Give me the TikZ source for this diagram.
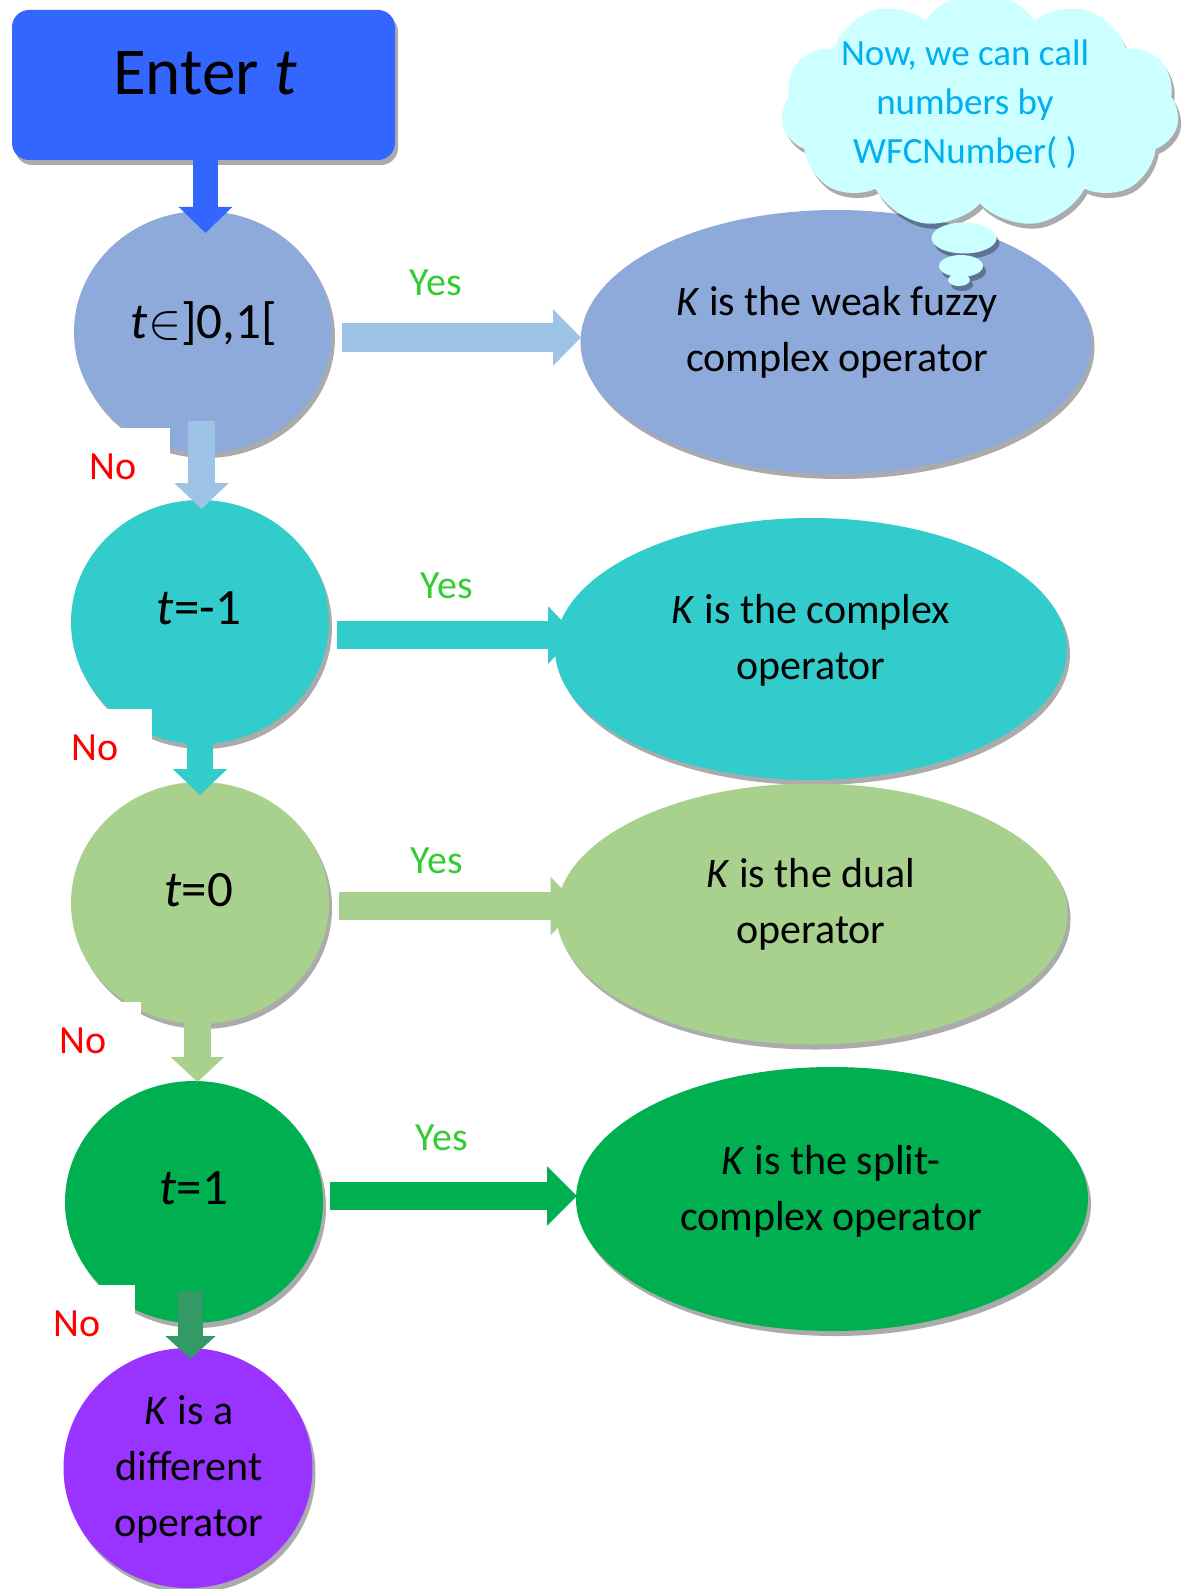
\documentclass[tikz,border=0pt]{standalone}
\usepackage{fontspec}
\setmainfont{Carlito}
\usetikzlibrary{shapes.geometric,shapes.symbols,shadows,arrows.meta,calc}
\definecolor{cEnter}{HTML}{3366FF}
\definecolor{cOne}{HTML}{8EAADB}
\definecolor{cOneArr}{HTML}{9DC3E6}
\definecolor{cTwo}{HTML}{33CCCC}
\definecolor{cThree}{HTML}{A9D18E}
\definecolor{cFour}{HTML}{00B050}
\definecolor{cFourArr}{HTML}{339966}
\definecolor{cFive}{HTML}{9933FF}
\definecolor{cYes}{HTML}{33CC33}
\definecolor{cNo}{HTML}{FF0000}
\definecolor{cCloud}{HTML}{CCFFFF}
\definecolor{cCloudTxt}{HTML}{00B0F0}
\begin{document}
\begin{tikzpicture}[x=0.5pt,y=-0.5pt,
  shp/.style={draw=none,inner sep=0pt,outer sep=0pt,
    drop shadow={shadow xshift=1.5pt,shadow yshift=-2.5pt,fill=black,opacity=.33}},
  oval/.style={shp,ellipse},
  body/.style={font=\fontsize{21}{28}\selectfont,align=center,text=black},
  yeslbl/.style={font=\fontsize{20}{24}\selectfont,text=cYes,anchor=base},
  nolbl/.style={font=\fontsize{20}{24}\selectfont,text=cNo,anchor=base},
  circtxt/.style={font=\fontsize{25.5}{30}\selectfont,anchor=base},
]
\useasboundingbox (0,0) rectangle (1189,1589);

% Enter box
\node[shp,rectangle,rounded corners=8.5pt,fill=cEnter,minimum width=191.5pt,minimum height=75pt] (enter) at (203.5,85) {};
\node[font=\fontsize{33.5}{40}\selectfont,anchor=base] (entert) at (205,95) {Enter \textit{t}};

% right ellipses
\node[oval,fill=cOne,minimum width=255.5pt,minimum height=132pt] (e1) at (836,342) {};
\node[oval,fill=cTwo,minimum width=256pt,minimum height=131pt] (e2) at (811,649) {};
\node[oval,fill=cThree,minimum width=255.5pt,minimum height=130.5pt] (e3) at (812,914) {};
\node[oval,fill=cFour,minimum width=256pt,minimum height=132pt] (e4) at (832,1199) {};

% cloud
\node[shp,cloud,cloud puffs=11,cloud puff arc=110,aspect=1.7,fill=cCloud,minimum width=199pt,minimum height=118pt] (cloud) at (980,110) {};
\node[shp,ellipse,fill=cCloud,minimum width=32.5pt,minimum height=15.5pt] (b1) at (964,238) {};
\node[shp,ellipse,fill=cCloud,minimum width=22pt,minimum height=11pt] (b2) at (961,266) {};
\node[shp,ellipse,fill=cCloud,minimum width=11pt,minimum height=6pt] (b3) at (959,280) {};
\node[font=\fontsize{18.5}{24.5}\selectfont,text=cCloudTxt,align=center] (cloudt) at (965,104) {Now, we can call\\numbers by\\WFCNumber( )};

% left circles
\node[oval,fill=cOne,minimum width=129pt,minimum height=121pt] (c1) at (203,332) {};
\node[oval,fill=cTwo,minimum width=129pt,minimum height=122pt] (c2) at (200,622) {};
\node[oval,fill=cThree,minimum width=129pt,minimum height=121pt] (c3) at (200,903) {};
\node[oval,fill=cFour,minimum width=129pt,minimum height=121pt] (c4) at (194,1202) {};
\node[oval,fill=cFive,minimum width=124.5pt,minimum height=120pt] (c5) at (188,1468) {};

% white label boxes
\fill[white] (60,428) rectangle (170,498);
\fill[white] (40,709) rectangle (152,778);
\fill[white] (30,1002) rectangle (141,1075);
\fill[white] (20,1285) rectangle (135,1345);

% down arrows
\draw[cEnter,line width=12.5pt,-{Triangle[width=26pt,length=13pt]}] ($(enter.south)+(2,0)$) -- ($(c1.north)+(2.5,22)$);
\draw[cOneArr,line width=13.5pt,-{Triangle[width=26.5pt,length=13pt]}] ($(c1.south)+(-1.5,-32)$) -- ($(c2.north)+(1.5,9)$);
\draw[cTwo,line width=13pt,-{Triangle[width=26.5pt,length=13pt]}] ($(c2.south)+(0,-44)$) -- ($(c3.north)+(0,13)$);
\draw[cThree,line width=13.5pt,-{Triangle[width=26pt,length=12.5pt]}] ($(c3.south)+(-2.5,-34)$) -- ($(c4.north)+(3.5,1)$);
\draw[cFourArr,line width=12.5pt,-{Triangle[width=24.5pt,length=11.5pt]}] ($(c4.south)+(-3.5,-32.5)$) -- ($(c5.north)+(2.5,11)$);

% right arrows
\draw[cOneArr,line width=14.5pt,-{Triangle[width=27.5pt,length=14pt]}] ($(c1.east)+(10,5.5)$) -- ($(e1.west)+(0.5,-4.5)$);
\draw[cTwo,line width=14pt,-{Triangle[width=28pt,length=14pt]}] ($(c2.east)+(8,13)$) -- ($(e2.west)+(21,-14)$);
\draw[cThree,line width=14pt,-{Triangle[width=28.5pt,length=14pt]}] ($(c3.east)+(9.5,3)$) -- ($(e3.west)+(22,-8)$);
\draw[cFour,line width=14pt,-{Triangle[width=29pt,length=15pt]}] ($(c4.east)+(7,-6)$) -- ($(e4.west)+(1,-3)$);

% circle texts
\node[circtxt] (c1t) at (204,338) {\textit{t}$\in$]0,1[};
\node[circtxt] (c2t) at (199,624) {\textit{t}=-1};
\node[circtxt] (c3t) at (199,906) {\textit{t}=0};
\node[circtxt] (c4t) at (194,1204) {\textit{t}=1};
\node[body] (c5t) at (189,1469) {\textit{K} is a\\different\\operator};

% ellipse texts
\node[body] (e1t) at (837,332) {\textit{K} is the weak fuzzy\\complex operator};
\node[body] (e2t) at (811,640) {\textit{K} is the complex\\operator};
\node[body] (e3t) at (811,904) {\textit{K} is the dual\\operator};
\node[body] (e4t) at (831,1191) {\textit{K} is the split-\\complex operator};

% labels
\node[yeslbl] (y1) at (436,295) {Yes};
\node[yeslbl] (y2) at (447,598) {Yes};
\node[yeslbl] (y3) at (437,873) {Yes};
\node[yeslbl] (y4) at (442,1150) {Yes};
\node[nolbl] (n1) at (113,479) {No};
\node[nolbl] (n2) at (95,760) {No};
\node[nolbl] (n3) at (83,1053) {No};
\node[nolbl] (n4) at (77,1336) {No};
\end{tikzpicture}
\end{document}
